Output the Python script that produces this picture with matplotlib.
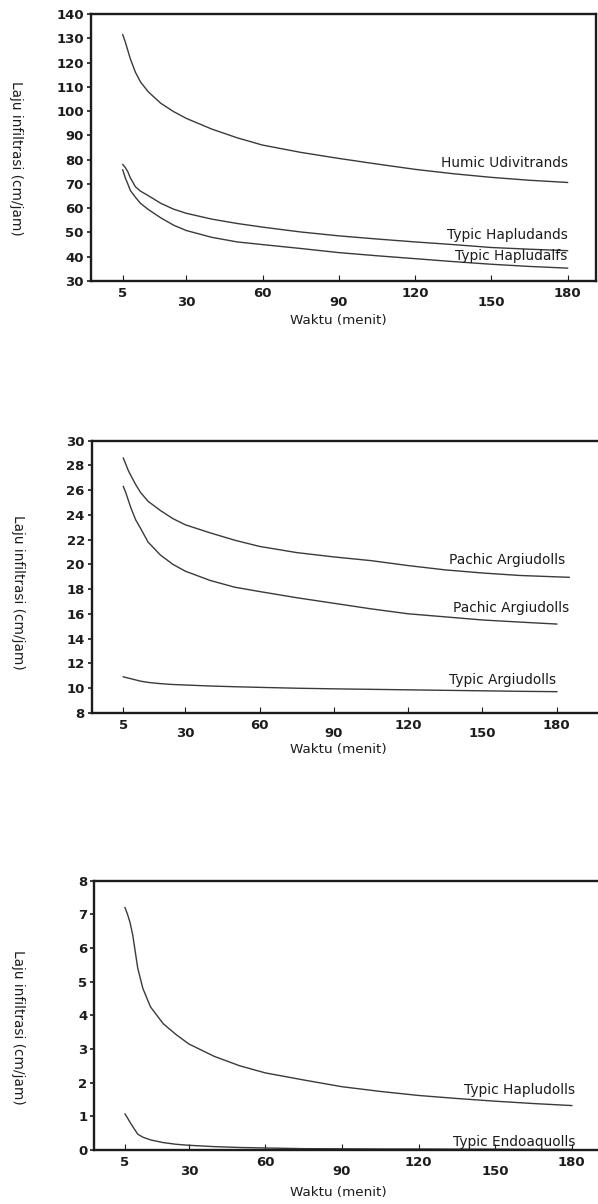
import matplotlib
matplotlib.use("Agg")
import matplotlib.pyplot as plt

# ---------------- data ----------------
time_min = [5, 6, 7, 8, 10, 12, 15, 20, 25, 30, 40, 50, 60, 75, 90, 105, 120, 135, 150, 165, 180]
time_min_long = [5, 6, 7, 8, 10, 12, 15, 20, 25, 30, 40, 50, 60, 75, 90, 105, 120, 135, 150, 165, 185]

# Chart 1
humic_udivitrands = [131.5, 128.5, 125, 121.5, 116, 112, 108, 103.2, 99.8, 97, 92.6, 89, 86,
                     83, 80.5, 78.2, 76, 74.2, 72.7, 71.5, 70.6]
typic_hapludands = [78, 76.8, 75, 72.5, 68.8, 67, 65.2, 62, 59.6, 57.9, 55.5, 53.7, 52.2,
                    50.2, 48.6, 47.3, 46.1, 45, 43.8, 43.1, 42.5]
typic_hapludalfs = [75.8, 72.5, 70, 67.3, 64.5, 62, 59.5, 56, 53, 50.8, 48, 46.1, 45,
                    43.4, 41.7, 40.4, 39.2, 38, 36.9, 36, 35.3]

# Chart 2
pachic_argiudolls_1 = [28.6, 28.1, 27.6, 27.2, 26.45, 25.8, 25.1, 24.35, 23.7, 23.2, 22.55, 21.95,
                       21.45, 20.95, 20.6, 20.3, 19.9, 19.55, 19.3, 19.1, 18.95]
pachic_argiudolls_2 = [26.3, 25.8, 25.2, 24.6, 23.6, 22.9, 21.8, 20.75, 20.0, 19.45, 18.7, 18.15,
                       17.8, 17.3, 16.85, 16.4, 16.0, 15.75, 15.5, 15.33, 15.17]
typic_argiudolls = [10.9, 10.85, 10.8, 10.75, 10.65, 10.55, 10.45, 10.35, 10.28, 10.24, 10.16, 10.1,
                    10.05, 9.98, 9.93, 9.89, 9.85, 9.81, 9.77, 9.73, 9.7]

# Chart 3
typic_hapludolls = [7.2, 7.0, 6.75, 6.4, 5.4, 4.8, 4.25, 3.75, 3.43, 3.15, 2.78, 2.5, 2.29,
                    2.08, 1.88, 1.74, 1.62, 1.53, 1.45, 1.38, 1.32]
typic_endoaquolls = [1.07, 0.95, 0.82, 0.7, 0.47, 0.38, 0.3, 0.22, 0.17, 0.14, 0.1, 0.075, 0.06,
                     0.04, 0.035, 0.03, 0.03, 0.025, 0.025, 0.02, 0.02]

x_major_ticks = [5, 60, 120, 180]
x_minor_ticks = [30, 90, 150]
y_ticks_1 = list(range(30, 141, 10))
y_ticks_2 = list(range(8, 31, 2))
y_ticks_3 = list(range(0, 9, 1))

xlabel = "Waktu (menit)"
ylabel = "Laju infiltrasi (cm/jam)"

# ---------------- layout ----------------
W, H = 598, 1204
fig = plt.figure(figsize=(W / 100, H / 100), dpi=100)
fig.patch.set_facecolor("white")

INK = "#1c1c1c"
LINE = "#3a3a3a"
LBL = 9.9


def box(l, t, r, b):
    return [l / W, 1 - b / H, (r - l) / W, (b - t) / H]


def fx(px):
    return px / W


def fy(py):
    return 1 - py / H


def style_axes(ax, xlim, ylim, yticks, xlab_top, ylab_xy):
    ax.set_xlim(*xlim)
    ax.set_ylim(*ylim)
    ax.set_yticks(yticks)
    ax.set_yticklabels([str(v) for v in yticks])
    ax.set_xticks(x_major_ticks)
    ax.set_xticklabels([str(v) for v in x_major_ticks])
    ax.set_xticks(x_minor_ticks, minor=True)
    ax.set_xticklabels([str(v) for v in x_minor_ticks], minor=True)
    for s in ax.spines.values():
        s.set_linewidth(1.7)
        s.set_color(INK)
    ax.tick_params(axis="y", which="major", direction="out", length=3, width=1.2,
                   pad=2, labelsize=9.5, colors=INK)
    ax.tick_params(axis="x", which="major", direction="in", length=4, width=0.8,
                   pad=4.5, labelsize=9.5, colors=INK)
    ax.tick_params(axis="x", which="minor", direction="in", length=4, width=0.8,
                   pad=10.5, labelsize=9.5, colors=INK)
    for lab in ax.get_xticklabels(which="both") + ax.get_yticklabels():
        lab.set_fontweight("bold")
    ax.set_xlabel(xlabel, fontsize=9.7, color=INK)
    ax.xaxis.set_label_coords(fx(338), fy(xlab_top), transform=fig.transFigure)
    ax.set_ylabel(ylabel, fontsize=9.8, color=INK, rotation=270, va="center", ha="center")
    ax.yaxis.set_label_coords(fx(ylab_xy[0]), fy(ylab_xy[1]), transform=fig.transFigure)


# Chart 1
ax1 = fig.add_axes(box(90.7, 14, 596, 281))
ax1.plot(time_min, humic_udivitrands, color=LINE, lw=1.0)
ax1.plot(time_min, typic_hapludands, color=LINE, lw=1.0)
ax1.plot(time_min, typic_hapludalfs, color=LINE, lw=1.0)
style_axes(ax1, (-7.6, 191.2), (30, 140), y_ticks_1, 314, (16, 158))
ax1.text(180.4, 78.6, "Humic Udivitrands", ha="right", va="center", fontsize=LBL, color=INK)
ax1.text(180.1, 49.1, "Typic Hapludands", ha="right", va="center", fontsize=LBL, color=INK)
ax1.text(180.1, 40.2, "Typic Hapludalfs", ha="right", va="center", fontsize=LBL, color=INK)

# Chart 2
ax2 = fig.add_axes(box(91.7, 440.7, 600, 712.7))
ax2.plot(time_min_long, pachic_argiudolls_1, color=LINE, lw=1.0)
ax2.plot(time_min, pachic_argiudolls_2, color=LINE, lw=1.0)
ax2.plot(time_min, typic_argiudolls, color=LINE, lw=1.0)
style_axes(ax2, (-7.76, 197.45), (8, 30), y_ticks_2, 743, (18, 592))
ax2.text(183.6, 20.35, "Pachic Argiudolls", ha="right", va="center", fontsize=LBL, color=INK)
ax2.text(185.2, 16.5, "Pachic Argiudolls", ha="right", va="center", fontsize=LBL, color=INK)
ax2.text(179.8, 10.64, "Typic Argiudolls", ha="right", va="center", fontsize=LBL, color=INK)

# Chart 3
ax3 = fig.add_axes(box(94.3, 880.7, 600, 1150))
ax3.plot(time_min, typic_hapludolls, color=LINE, lw=1.0)
ax3.plot(time_min, typic_endoaquolls, color=LINE, lw=1.0)
style_axes(ax3, (-7.02, 191.05), (0, 8), y_ticks_3, 1186, (18, 1027))
ax3.text(181.4, 1.79, "Typic Hapludolls", ha="right", va="center", fontsize=LBL, color=INK)
ax3.text(181.3, 0.25, "Typic Endoaquolls", ha="right", va="center", fontsize=LBL, color=INK)

fig.savefig("out.png", dpi=100, facecolor="white")
